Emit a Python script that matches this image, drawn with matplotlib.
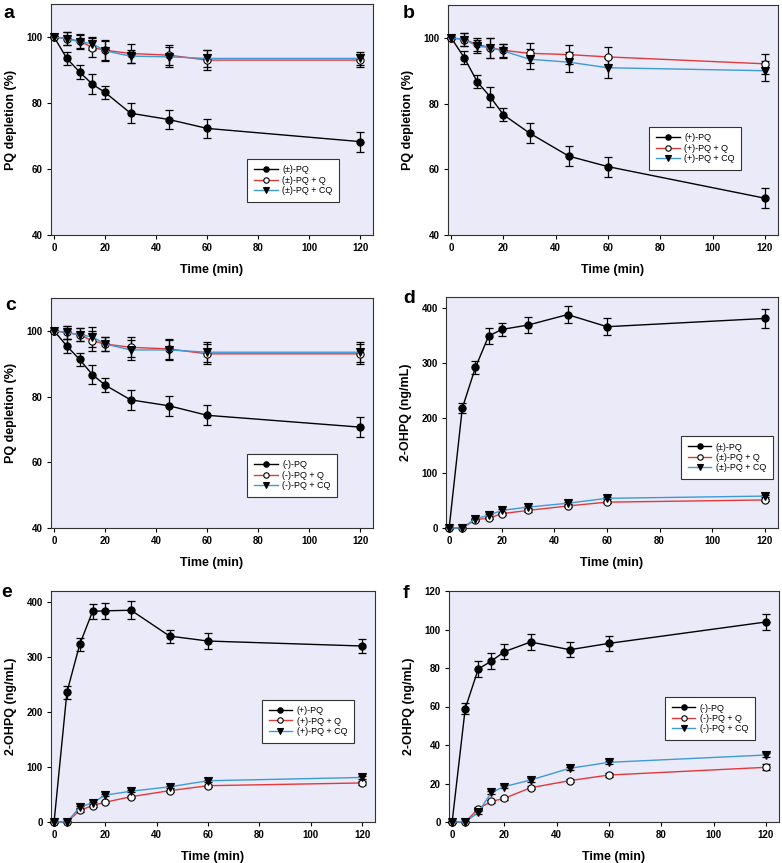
import matplotlib
matplotlib.use("Agg")
import matplotlib.pyplot as plt
import numpy as np

plt.rcParams['font.family'] = ['Liberation Sans', 'DejaVu Sans']

time = [0, 5, 10, 15, 20, 30, 45, 60, 120]

# Panel a: (±)-PQ depletion (%)
a_pq = [100, 93.5, 89.4, 85.7, 83.2, 76.9, 75.0, 72.3, 68.3]
a_pq_err = [0, 2, 2, 3, 2, 3, 3, 3, 3]
a_q = [100, 99.5, 98.8, 96.8, 96.0, 95.0, 94.5, 93.0, 93.0]
a_q_err = [0, 2, 2, 3, 3, 3, 3, 3, 2]
a_cq = [100, 99.5, 98.5, 98.0, 95.8, 94.2, 94.0, 93.5, 93.5]
a_cq_err = [0, 2, 2, 2, 3, 2, 3, 2.5, 2]

# Panel b: (+)-PQ depletion (%)
b_pq = [100, 94.0, 86.6, 82.0, 76.6, 71.0, 64.0, 60.8, 51.2]
b_pq_err = [0, 2, 2, 3, 2, 3, 3, 3, 3]
b_q = [100, 99.5, 98.0, 97.0, 96.2, 95.3, 94.9, 94.2, 92.1]
b_q_err = [0, 2, 2, 3, 2, 3, 3, 3, 3]
b_cq = [100, 99.5, 97.5, 97.0, 96.0, 93.5, 92.6, 90.9, 90.0]
b_cq_err = [0, 2, 2, 3, 2, 3, 3, 3, 3]

# Panel c: (-)-PQ depletion (%)
c_pq = [100, 95.4, 91.3, 86.7, 83.5, 79.0, 77.2, 74.3, 70.7]
c_pq_err = [0, 2, 2, 3, 2, 3, 3, 3, 3]
c_q = [100, 99.5, 98.8, 97.0, 96.0, 95.0, 94.5, 93.0, 93.0]
c_q_err = [0, 2, 2, 3, 2, 3, 3, 3, 3]
c_cq = [100, 99.5, 98.8, 98.2, 96.0, 94.2, 94.2, 93.5, 93.5]
c_cq_err = [0, 2, 2, 3, 2, 3, 3, 3, 3]

# Panel d: 2-OHPQ from (±)-PQ (ng/mL)
d_pq = [0, 218, 292, 349, 361, 369, 388, 366, 381]
d_pq_err = [0, 9, 12, 14, 12, 14, 15, 15, 18]
d_q = [0, 0, 15, 18, 26, 32, 40, 47, 51]
d_q_err = [0, 0, 2, 2, 2, 2, 2, 2, 2]
d_cq = [0, 0, 17, 23, 32, 38, 45, 54, 58]
d_cq_err = [0, 0, 2, 2, 2, 2, 2, 2, 2]

# Panel e: 2-OHPQ from (+)-PQ (ng/mL)
e_pq = [0, 236, 323, 383, 384, 385, 338, 329, 320]
e_pq_err = [0, 12, 12, 14, 15, 16, 12, 15, 12]
e_q = [0, 0, 21, 30, 36, 46, 57, 66, 71]
e_q_err = [0, 0, 2, 2, 2, 2, 2, 2, 3]
e_cq = [0, 0, 27, 35, 49, 56, 64, 75, 81]
e_cq_err = [0, 0, 2, 2, 2, 2, 2, 2, 3]

# Panel f: 2-OHPQ from (-)-PQ (ng/mL)
f_pq = [0, 58.9, 79.5, 83.6, 88.5, 93.5, 89.5, 92.8, 103.9]
f_pq_err = [0, 3, 4, 4, 4, 4, 4, 4, 4]
f_q = [0, 0, 6.9, 10.7, 12.3, 17.8, 21.5, 24.4, 28.4]
f_q_err = [0, 0, 0.8, 0.8, 0.8, 0.8, 0.8, 0.8, 1.5]
f_cq = [0, 0, 5.0, 15.4, 18.4, 21.8, 27.9, 31.0, 34.8]
f_cq_err = [0, 0, 0.8, 0.8, 0.8, 0.8, 0.8, 0.8, 1.2]

labels_a = ["(±)-PQ", "(±)-PQ + Q", "(±)-PQ + CQ"]
labels_b = ["(+)-PQ", "(+)-PQ + Q", "(+)-PQ + CQ"]
labels_c = ["(-)-PQ", "(-)-PQ + Q", "(-)-PQ + CQ"]

xticks = [0, 20, 40, 60, 80, 100, 120]
yticks_dep = [40, 60, 80, 100]
yticks_oh = [0, 100, 200, 300, 400]
yticks_f = [0, 20, 40, 60, 80, 100, 120]

BG = '#EAEAF8'
RED = '#E2393B'
BLUE = '#3E9AD8'

fig = plt.figure(figsize=(7.82, 8.63), dpi=100)
W, H = 782, 863

def ax_at(l, t, r, b):
    return fig.add_axes([l / W, 1 - b / H, (r - l) / W, (b - t) / H])

panels = [
    dict(box=(51, 4, 373, 235), series=(a_pq, a_pq_err, a_q, a_q_err, a_cq, a_cq_err),
         labels=labels_a, ylim=(40, 110), yticks=yticks_dep, ylabel='PQ depletion (%)',
         leg=(0.61, 0.143), letter='a', lpos=(3, 18)),
    dict(box=(448, 5, 778, 235), series=(b_pq, b_pq_err, b_q, b_q_err, b_cq, b_cq_err),
         labels=labels_b, ylim=(40, 110), yticks=yticks_dep, ylabel='PQ depletion (%)',
         leg=(0.61, 0.283), letter='b', lpos=(403, 18)),
    dict(box=(51, 298, 373, 528), series=(c_pq, c_pq_err, c_q, c_q_err, c_cq, c_cq_err),
         labels=labels_c, ylim=(40, 110), yticks=yticks_dep, ylabel='PQ depletion (%)',
         leg=(0.61, 0.135), letter='c', lpos=(5, 310)),
    dict(box=(446, 297, 778, 528), series=(d_pq, d_pq_err, d_q, d_q_err, d_cq, d_cq_err),
         labels=labels_a, ylim=(0, 420), yticks=yticks_oh, ylabel='2-OHPQ (ng/mL)',
         leg=(0.708, 0.212), letter='d', lpos=(403, 303)),
    dict(box=(51, 591, 375, 822), series=(e_pq, e_pq_err, e_q, e_q_err, e_cq, e_cq_err),
         labels=labels_b, ylim=(0, 420), yticks=yticks_oh, ylabel='2-OHPQ (ng/mL)',
         leg=(0.651, 0.343), letter='e', lpos=(1, 597)),
    dict(box=(449, 591, 779, 822), series=(f_pq, f_pq_err, f_q, f_q_err, f_cq, f_cq_err),
         labels=labels_c, ylim=(0, 120), yticks=yticks_f, ylabel='2-OHPQ (ng/mL)',
         leg=(0.655, 0.355), letter='f', lpos=(403, 598)),
]

for p in panels:
    ax = ax_at(*p['box'])
    ax.set_facecolor(BG)
    pq, pqe, q, qe, cq, cqe = p['series']
    styles = [
        (pq, pqe, 'black', 'o', 'black'),
        (q, qe, RED, 'o', 'white'),
        (cq, cqe, BLUE, 'v', 'black'),
    ]
    handles = []
    for (y, e, col, mk, mfc), lab in zip(styles, p['labels']):
        ax.errorbar(time, y, yerr=e, fmt='none', ecolor='black', elinewidth=0.9,
                    capsize=3.2, capthick=0.9, zorder=2, clip_on=False)
        h, = ax.plot(time, y, color=col, lw=1.0, marker=mk, markersize=5.2,
                     markerfacecolor=mfc, markeredgecolor='black', markeredgewidth=0.8,
                     zorder=3, clip_on=False, label=lab)
        handles.append(h)
    ax.set_xlim(-1.2, 125)
    ax.set_ylim(*p['ylim'])
    ax.set_xticks(xticks)
    ax.set_yticks(p['yticks'])
    ax.tick_params(direction='out', length=3, width=0.8, labelsize=7, pad=3,
                   top=False, right=False)
    for lbl in ax.get_xticklabels() + ax.get_yticklabels():
        lbl.set_fontweight('bold')
    for s in ax.spines.values():
        s.set_linewidth(0.8)
        s.set_color('#333333')
    ax.set_xlabel('Time (min)', fontsize=9, fontweight='bold', labelpad=8)
    ax.set_ylabel(p['ylabel'], fontsize=9, fontweight='bold', labelpad=7)
    leg = ax.legend(handles=handles, loc='lower left', bbox_to_anchor=p['leg'],
                    fontsize=6.5, frameon=True, fancybox=False, framealpha=1,
                    edgecolor='#333333', facecolor='white', handlelength=2.6,
                    borderpad=0.75, labelspacing=0.15, handletextpad=0.5,
                    markerscale=0.75, borderaxespad=0)
    leg.get_frame().set_linewidth(0.8)
    lx, ly = p['lpos']
    fig.text(lx / W, 1 - ly / H, p['letter'], fontsize=14, fontweight='bold',
             ha='left', va='baseline')

fig.savefig('out.png', dpi=100)
